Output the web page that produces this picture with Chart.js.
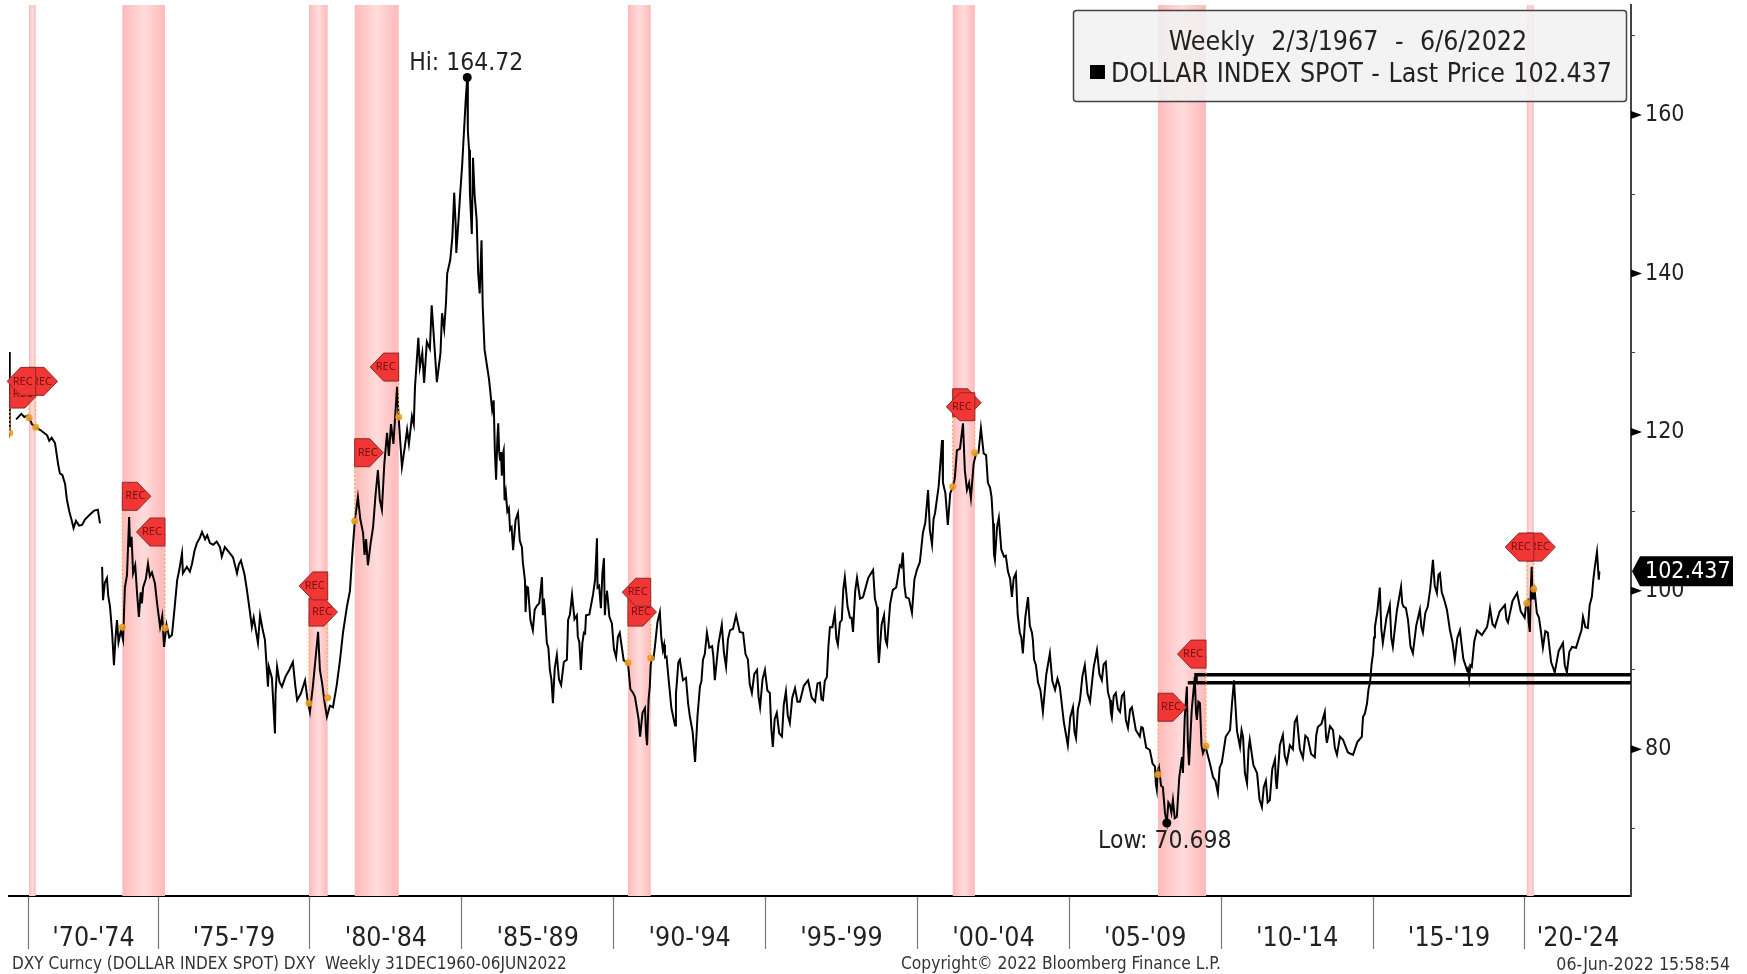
<!DOCTYPE html>
<html><head><meta charset="utf-8">
<style>html,body{margin:0;padding:0;background:#fff}canvas{display:block}</style>
<script src="https://cdn.jsdelivr.net/npm/chart.js@4"></script></head>
<body><canvas id="c" width="1747" height="974"></canvas>
<script>
const years=[
1970.11,1970.12,1970.14,1970.17,1970.33,1970.5,1970.6,1970.72,1970.85,1970.98,
1971.15,1971.35,1971.42,1971.5,1971.61,1971.71,1971.77,1971.85,1971.94,1972.0,
1972.08,1972.17,1972.22,1972.3,1972.4,1972.5,1972.6,1972.76,1972.9,1973.02,
1973.09,1973.12,1973.16,1973.19,1973.25,1973.32,1973.36,1973.42,1973.49,1973.55,
1973.6,1973.65,1973.7,1973.78,1973.85,1973.91,1973.98,1974.05,1974.08,1974.13,
1974.18,1974.25,1974.31,1974.37,1974.43,1974.47,1974.51,1974.6,1974.67,1974.73,
1974.8,1974.9,1974.97,1975.07,1975.14,1975.2,1975.28,1975.37,1975.46,1975.55,
1975.63,1975.7,1975.79,1975.82,1975.95,1976.05,1976.12,1976.2,1976.28,1976.37,
1976.45,1976.55,1976.62,1976.71,1976.82,1976.93,1977.04,1977.1,1977.2,1977.35,
1977.47,1977.6,1977.66,1977.73,1977.85,1977.93,1978.03,1978.09,1978.15,1978.29,
1978.36,1978.45,1978.52,1978.62,1978.65,1978.75,1978.85,1978.87,1978.92,1979.0,
1979.08,1979.2,1979.32,1979.44,1979.52,1979.58,1979.7,1979.84,1979.92,1980.0,
1980.1,1980.2,1980.27,1980.33,1980.4,1980.48,1980.56,1980.66,1980.76,1980.88,
1980.99,1981.09,1981.22,1981.32,1981.39,1981.48,1981.58,1981.66,1981.75,1981.8,
1981.85,1981.91,1982.0,1982.08,1982.16,1982.24,1982.3,1982.37,1982.45,1982.54,
1982.6,1982.67,1982.75,1982.87,1982.92,1983.03,1983.12,1983.2,1983.26,1983.36,
1983.42,1983.46,1983.57,1983.62,1983.7,1983.76,1983.85,1983.95,1984.01,1984.08,
1984.18,1984.3,1984.35,1984.42,1984.48,1984.52,1984.62,1984.69,1984.75,1984.8,
1984.82,1984.88,1984.95,1985.01,1985.13,1985.18,1985.2,1985.24,1985.27,1985.33,
1985.37,1985.42,1985.49,1985.54,1985.59,1985.65,1985.69,1985.75,1985.9,1986.0,
1986.05,1986.09,1986.13,1986.17,1986.2,1986.23,1986.26,1986.29,1986.32,1986.35,
1986.38,1986.4,1986.41,1986.45,1986.5,1986.55,1986.59,1986.64,1986.69,1986.77,
1986.85,1986.91,1986.98,1987.01,1987.08,1987.1,1987.14,1987.18,1987.26,1987.34,
1987.4,1987.47,1987.55,1987.64,1987.67,1987.7,1987.73,1987.8,1987.85,1987.9,
1987.95,1988.0,1988.06,1988.13,1988.2,1988.27,1988.36,1988.46,1988.5,1988.56,
1988.63,1988.71,1988.79,1988.82,1988.87,1988.92,1988.97,1989.02,1989.06,1989.09,
1989.2,1989.32,1989.39,1989.45,1989.47,1989.52,1989.58,1989.63,1989.68,1989.71,
1989.75,1989.78,1989.86,1989.94,1990.01,1990.08,1990.14,1990.2,1990.33,1990.47,
1990.55,1990.64,1990.7,1990.77,1990.82,1990.87,1990.95,1991.03,1991.07,1991.1,
1991.15,1991.19,1991.22,1991.26,1991.31,1991.36,1991.44,1991.52,1991.57,1991.62,
1991.66,1991.69,1991.74,1991.79,1991.9,1992.02,1992.05,1992.08,1992.13,1992.18,
1992.28,1992.38,1992.45,1992.51,1992.6,1992.68,1992.76,1992.84,1992.89,1992.94,
1993.0,1993.07,1993.15,1993.24,1993.28,1993.33,1993.45,1993.56,1993.63,1993.7,
1993.76,1993.83,1993.93,1994.03,1994.15,1994.26,1994.34,1994.42,1994.48,1994.55,
1994.63,1994.72,1994.77,1994.82,1994.9,1994.98,1995.06,1995.14,1995.19,1995.24,
1995.3,1995.37,1995.45,1995.54,1995.6,1995.67,1995.73,1995.8,1995.88,1995.97,
1996.05,1996.13,1996.26,1996.4,1996.52,1996.63,1996.71,1996.79,1996.84,1996.89,
1996.95,1997.02,1997.07,1997.12,1997.2,1997.28,1997.33,1997.38,1997.45,1997.51,
1997.56,1997.61,1997.7,1997.78,1997.83,1997.88,1997.95,1998.01,1998.11,1998.21,
1998.38,1998.54,1998.6,1998.67,1998.7,1998.73,1998.82,1998.9,1998.95,1999.0,
1999.1,1999.19,1999.3,1999.42,1999.47,1999.52,1999.57,1999.62,1999.72,1999.82,
1999.9,1999.98,2000.08,2000.18,2000.26,2000.35,2000.41,2000.48,2000.53,2000.58,
2000.7,2000.81,2000.84,2000.92,2001.0,2001.08,2001.17,2001.23,2001.3,2001.4,
2001.5,2001.56,2001.63,2001.7,2001.76,2001.85,2001.93,2002.01,2002.09,2002.18,
2002.26,2002.32,2002.39,2002.44,2002.49,2002.52,2002.55,2002.62,2002.68,2002.76,
2002.85,2002.91,2002.98,2003.05,2003.11,2003.17,2003.24,2003.3,2003.37,2003.42,
2003.47,2003.55,2003.64,2003.7,2003.77,2003.8,2003.84,2003.9,2003.97,2004.05,
2004.13,2004.24,2004.36,2004.44,2004.53,2004.61,2004.69,2004.82,2004.95,2005.03,
2005.12,2005.17,2005.22,2005.28,2005.35,2005.43,2005.51,2005.6,2005.68,2005.8,
2005.91,2005.99,2006.07,2006.13,2006.2,2006.27,2006.34,2006.37,2006.4,2006.46,
2006.53,2006.6,2006.67,2006.73,2006.8,2006.86,2006.93,2007.0,2007.06,2007.19,
2007.32,2007.37,2007.42,2007.53,2007.65,2007.74,2007.82,2007.85,2007.88,2007.91,
2007.95,2008.02,2008.08,2008.15,2008.21,2008.26,2008.31,2008.36,2008.41,2008.47,
2008.54,2008.62,2008.71,2008.74,2008.8,2008.87,2008.9,2008.94,2009.03,2009.13,
2009.17,2009.2,2009.25,2009.3,2009.35,2009.4,2009.48,2009.56,2009.64,2009.73,
2009.81,2009.89,2009.95,2010.02,2010.15,2010.29,2010.36,2010.42,2010.52,2010.62,
2010.67,2010.72,2010.78,2010.85,2010.9,2010.94,2011.06,2011.18,2011.26,2011.34,
2011.4,2011.47,2011.53,2011.6,2011.68,2011.77,2011.8,2011.83,2011.93,2012.03,
2012.09,2012.16,2012.26,2012.36,2012.42,2012.49,2012.59,2012.69,2012.77,2012.85,
2012.96,2013.08,2013.13,2013.18,2013.3,2013.41,2013.45,2013.48,2013.58,2013.68,
2013.74,2013.81,2013.91,2014.01,2014.17,2014.34,2014.48,2014.63,2014.65,2014.67,
2014.73,2014.8,2014.85,2014.9,2014.95,2015.0,2015.03,2015.06,2015.14,2015.22,
2015.27,2015.32,2015.44,2015.55,2015.6,2015.65,2015.78,2015.92,2015.96,2016.0,
2016.08,2016.15,2016.23,2016.31,2016.42,2016.54,2016.59,2016.64,2016.72,2016.8,
2016.88,2016.97,2017.03,2017.1,2017.15,2017.2,2017.26,2017.33,2017.43,2017.53,
2017.61,2017.69,2017.77,2017.86,2017.97,2018.09,2018.12,2018.16,2018.2,2018.25,
2018.33,2018.42,2018.58,2018.75,2018.8,2018.85,2018.93,2019.01,2019.17,2019.34,
2019.39,2019.44,2019.59,2019.74,2019.86,2019.99,2020.04,2020.09,2020.12,2020.16,
2020.19,2020.22,2020.25,2020.29,2020.32,2020.39,2020.46,2020.52,2020.59,2020.67,
2020.75,2020.86,2020.98,2021.11,2021.25,2021.31,2021.38,2021.46,2021.55,2021.68,
2021.81,2021.86,2021.91,2021.99,2022.07,2022.13,2022.2,2022.25,2022.3,2022.37,
2022.43,2022.45];
const dxy=[
130.1,120,120.3,null,121.6,122.3,121.9,122.1,121,120.6,
120.2,119.6,118.9,119.3,118.6,116,114.8,114.6,113.5,111.5,
110,108.7,107.9,108.8,108.2,108.3,109,109.6,110.1,110.2,
108.5,null,103,98.8,101,101.6,99.4,98,94.7,90.6,
94,96.3,93.5,95,93.8,100.4,102,109.3,105.5,106.8,
102.2,103.2,99.7,96.7,99.8,98.4,100.4,101.5,103.4,101.8,
102.3,100.9,98.4,95.4,96.8,92.9,95.7,94.1,94.4,98,
101.3,102.6,104.7,102.2,103,102.4,103.4,105,106,106.6,
107.4,106.5,107,106,105.8,106.2,105.5,104.3,105.5,104.8,
104.2,102.2,103.3,103.8,102,100,97.2,95.4,96.6,93.4,
96.9,95,93.8,87.9,90.4,89,82,87,90.4,88.5,
87.9,89.2,90,91,88,86.2,87,88.7,86.3,84.7,
88,92,94.8,90,88.4,86,84.1,85.5,85.3,88,
91.2,94.7,98,100,104.2,108.9,111.8,109,107.3,104.5,
106.5,103.2,106,108,112,115.2,111.5,110.2,116,119.9,
117,121,118.5,125.7,122,115.6,118,120.3,118.5,122,
121,125.7,131.9,128.2,130,126.2,131.4,130.5,136,132,
126.3,130,135,133,136.3,140,141.7,144.6,150.2,146,
142.6,146,150.2,153.5,161.9,164.72,158,155.6,150,145,
154.6,150,146.8,140,137.5,144.2,135.8,130.4,126.6,122.8,
124,117.5,114,119,121.1,117.6,116.5,117.5,114.5,117.2,
117.7,113,111.4,112.4,110,110.4,107.7,108,105.1,108.9,
109.8,106.3,105.5,103.6,101.3,97.3,100.5,100.4,96.3,95,
97.6,98.1,98.4,101.7,96.9,99,97.8,93.4,92.8,90,
88.8,85.8,90.2,91.9,88.8,88.1,91,91.3,96.3,97,
99.5,96.4,96.9,94.2,93.5,90,93.4,94.7,94.6,96.9,
97,99.5,101.4,106.6,100.4,100.6,97.8,102.2,104.1,96.9,
99.4,100,96.7,95.9,92.6,91.6,94.2,94.7,91.2,90.9,
87.6,87.1,86.6,85,83.8,81.6,84.6,85.2,81.8,80.5,
86.3,87.9,90.6,91.6,91.4,93,96,97.3,94,92.5,
93.2,91.6,91.7,89.6,85.2,83,87,88.4,91,91.3,
88.7,89,85.8,84.1,82.2,78.4,84.2,87.9,88.6,91.3,
92,94.7,92.8,93,91.8,88.7,93.3,95.7,92.2,90.4,
93.8,95,95.2,96.9,94.8,94.7,92,91.3,88.2,87.1,
89.5,90,86.6,85.3,88.8,90,87.4,87.1,82.6,80.3,
83.8,84.6,82,81.6,85.6,87.3,84.3,83.3,86.5,87.7,
86,86,88,88.7,86.5,86,88.3,88.4,86.3,86.2,
88.6,89.1,93,95.4,95.4,97.2,94,93.2,96,96.3,
100.2,101.7,98,96.6,96.6,94.8,99.9,101.6,99,99.2,
101.6,102.6,99,97.9,93,90.9,95.7,96.9,93.8,93.2,
98.3,100.1,100.4,103.2,103,104.8,100.7,99.2,99,97.2,
101.4,102.6,103.6,107.3,108.6,112.7,107.6,105.8,109,109.8,
113.2,119,113.6,112.3,108.3,112.3,113.1,114.2,117.7,117.9,
121.1,115.2,112.7,113.6,111.7,116,117.3,117.4,120.5,117.3,
117.1,113.6,113,111.8,108.5,104.6,103.9,108,109.2,105.2,
104.3,104.4,102.4,101.5,99.2,101.6,102.2,97,94.7,94.1,
92.1,96.6,99.2,95.6,94.7,93.8,91.3,90.6,88.4,87.4,
84.7,89.4,92.1,88.6,87.5,88.9,87.8,83.4,80.5,84,
85.3,82.2,81.4,85,86.2,89.2,90.6,87,86,90.3,
92.5,89.5,88.7,90.7,91,87.2,86.2,84.6,84,86.7,
87.1,85.1,84.7,86.7,87.1,83.7,82.7,85,85.3,82.4,
81.6,82.8,82.7,80.2,79.9,78.2,77.8,75.6,74.9,77.4,
77.8,75.4,75.2,71.9,70.7,73.3,73,72,73.6,71.3,
71.5,76.5,79,77,84,87.9,81,78,85,89.1,
84.7,83.7,86,85.8,80.5,79.5,80.4,79.2,78,76.5,
76,74.5,77.7,78.3,81.6,82.4,86,88.7,82.3,80.3,
82.4,81.5,77,75.7,80,81.2,78,77,73.7,72.7,
75.2,76,73.3,73.6,77.5,78.7,76,75,80.5,81.8,
79.2,78.3,80.5,80,83.4,84,80,78.9,81.7,81.4,
79.4,79,81.8,82.8,83.2,84.7,81.6,80.8,82.9,82.4,
80.2,79.3,81.6,81.2,79.6,79.3,80.9,81.6,83,84.1,
84.5,85.8,87.6,88.4,90.7,92.1,94.1,95.4,97.4,100.4,
95.2,93.4,96.6,98.2,94,92.9,97.4,100.5,98.4,98,
97.8,96.3,93,92.1,95.6,97.6,95.4,94.7,97.2,98,
100.2,103.9,100.6,99.7,102,102.2,99.8,99,97.6,95,
93.6,91.3,94,95,91.4,90,90.2,88.9,90.6,90.4,
93.6,95,94.4,95.4,96.4,97.8,95.8,95.4,97.4,98.2,
96.4,96,98.7,99.7,97.4,96.6,98.4,98.7,96,94.8,
100,103,99,99,99.9,97.2,96.6,95,92.8,94.9,
94.7,91,89.7,92.4,93.4,90.6,89.7,92.3,92.9,92.8,
94.4,95,96.7,95.4,95.3,98.2,99.2,101.4,103,104.9,
101.4,102.437];
const recessionStart=[1970.754,1973.825,1979.97,1981.475,1990.47,2001.16,2007.92,2020.06];
const recessionEnd=[1970.974,1975.23,1980.586,1982.923,1991.22,2001.89,2009.5,2020.29];
const axisBoundaries=[1970.75,1975,1980,1985,1990,1995,2000,2005,2010,2015,2020];
const axisLabels=["'70-'74","'75-'79","'80-'84","'85-'89","'90-'94","'95-'99","'00-'04","'05-'09","'10-'14","'15-'19","'20-'24"];
const xMin=1970.095,xMax=2023.49,yMin=61.49,yMax=173.87;
const yTicks=[70,80,90,100,110,120,130,140,150,160,170];
const recYears=[1970.12,1970.754,1970.974,1973.825,1975.23,1979.97,1980.586,1981.475,1982.923,1990.47,1991.22,2001.16,2001.89,2007.92,2009.5,2020.06,2020.29];
const recDots=[119.9,121.8,120.6,95.4,95.3,85.8,86.5,108.8,121.9,90.9,91.5,113.1,117.4,76.8,80.4,98.4,100.2];
const recFlagValues=[124.8,126.4,126.4,111.9,107.4,97.3,100.6,117.4,128.2,97.3,99.8,123.7,123.2,85.3,92,105.5,105.5];
const recFlagDirs=[1,1,-1,1,-1,1,-1,1,-1,1,-1,1,-1,1,-1,1,-1];
const level1Years=[2009.17,2009.17,2023.49],level1Values=[88.4,89.4,89.4];
const level2Years=[2008.9,2023.49],level2Values=[88.4,88.4];
const hiLowYears=[1985.18,2008.21],hiLowValues=[164.72,70.698];
const lastPrice=102.437;
const legendTitle="Weekly 2/3/1967 - 6/6/2022";
const legendSeries="DOLLAR INDEX SPOT - Last Price 102.437";
const footLeft="DXY Curncy (DOLLAR INDEX SPOT) DXY  Weekly 31DEC1960-06JUN2022";
const footMid="Copyright\u00a9 2022 Bloomberg Finance L.P.";
const footRight="06-Jun-2022 15:58:54";
const FONT='"DejaVu Sans Condensed","DejaVu Sans",sans-serif';

const pairs=(a,b)=>a.map((x,i)=>({x,y:b[i]}));
const xTickVals=[];
axisBoundaries.forEach((b,i)=>{const e=i+1<axisBoundaries.length?axisBoundaries[i+1]:xMax;xTickVals.push({value:b,kind:0},{value:(b+e)/2,kind:1,label:axisLabels[i]});});

const decor={id:'decor',
 beforeDatasetsDraw(ch){
  const {ctx,chartArea:a,scales:{x}}=ch;
  ctx.save();
  recessionStart.forEach((s,i)=>{
   const l=x.getPixelForValue(s),r=x.getPixelForValue(recessionEnd[i]);
   const g=ctx.createLinearGradient(l,0,r,0);
   g.addColorStop(0,'#ffb9b9');g.addColorStop(.5,'#ffdcdc');g.addColorStop(1,'#ffb9b9');
   ctx.fillStyle=g;ctx.fillRect(l,a.top,r-l,a.bottom-a.top);
  });
  ctx.restore();
 },
 afterDatasetsDraw(ch){
  const {ctx,chartArea:a,scales:{x,y}}=ch;
  ctx.save();
  ctx.strokeStyle='#f5ad50';ctx.lineWidth=1.2;ctx.setLineDash([2,2]);
  recYears.forEach((yr,i)=>{
   const px=x.getPixelForValue(yr);
   ctx.beginPath();ctx.moveTo(px,y.getPixelForValue(recDots[i]));ctx.lineTo(px,y.getPixelForValue(recFlagValues[i]));ctx.stroke();
  });
  ctx.setLineDash([]);
  recYears.forEach((yr,i)=>{
   const px=x.getPixelForValue(yr),py=y.getPixelForValue(recFlagValues[i]),d=recFlagDirs[i];
   ctx.beginPath();
   ctx.moveTo(px,py-14);ctx.lineTo(px+d*15,py-14);ctx.lineTo(px+d*28.5,py);ctx.lineTo(px+d*15,py+14);ctx.lineTo(px,py+14);ctx.closePath();
   ctx.fillStyle='#f23535';ctx.fill();ctx.strokeStyle='#8c2a2a';ctx.lineWidth=1;ctx.stroke();
   ctx.fillStyle='#7a1010';ctx.font='11px "Noto Sans"';ctx.textAlign='center';ctx.textBaseline='middle';
   ctx.fillText('REC',px+d*13,py);
  });
  ctx.fillStyle='#222';ctx.font='24.5px '+FONT;ctx.textAlign='center';ctx.textBaseline='middle';
  ctx.fillText('Hi: 164.72',x.getPixelForValue(hiLowYears[0])-1,y.getPixelForValue(hiLowValues[0])-14);
  ctx.fillText('Low: 70.698',x.getPixelForValue(hiLowYears[1])-2,y.getPixelForValue(hiLowValues[1])+19);
  ctx.fillStyle='#000';
  yTicks.filter(v=>v%20===0).forEach(v=>{
   const py=y.getPixelForValue(v);
   ctx.beginPath();ctx.moveTo(a.right,py-4);ctx.lineTo(a.right+11,py);ctx.lineTo(a.right,py+4);ctx.closePath();ctx.fill();
  });
  const ly=y.getPixelForValue(lastPrice);
  ctx.beginPath();ctx.moveTo(a.right+1,ly);ctx.lineTo(a.right+9,ly-15);ctx.lineTo(1733,ly-15);ctx.lineTo(1733,ly+15);ctx.lineTo(a.right+9,ly+15);ctx.closePath();
  ctx.fillStyle='#000';ctx.fill();
  ctx.fillStyle='#fff';ctx.font='23px '+FONT;ctx.textAlign='left';ctx.textBaseline='middle';
  ctx.fillText(lastPrice.toFixed(3),1645,ly+1);
  ctx.beginPath();ctx.roundRect(1073.5,10.5,553,91,3);
  ctx.fillStyle='rgba(241,241,241,0.88)';ctx.fill();ctx.strokeStyle='#444';ctx.lineWidth=1.5;ctx.stroke();
  ctx.fillStyle='#222';ctx.font='26.5px '+FONT;ctx.textBaseline='middle';
  ctx.textAlign='center';ctx.wordSpacing='9px';
  ctx.fillText(legendTitle,1348,43);
  ctx.textAlign='left';ctx.wordSpacing='1px';ctx.fillText(legendSeries,1111,75);
  ctx.wordSpacing='0px';
  ctx.fillStyle='#000';ctx.fillRect(1090,65,15,14);
  ctx.fillStyle='#333';ctx.textBaseline='middle';
  ctx.font='17px '+FONT;ctx.textAlign='left';ctx.fillText(footLeft,12,965);
  ctx.font='17.3px '+FONT;ctx.fillText(footMid,901,965);
  ctx.font='17.6px '+FONT;ctx.textAlign='right';ctx.fillText(footRight,1730,965);
  ctx.restore();
 }};

new Chart(document.getElementById('c'),{
 type:'line',
 data:{datasets:[
  {label:'DOLLAR INDEX SPOT',data:pairs(years,dxy),borderColor:'#000',borderWidth:2,pointRadius:0,tension:0,spanGaps:false,order:3},
  {label:'L1',data:pairs(level1Years,level1Values),borderColor:'#000',borderWidth:3.5,pointRadius:0,tension:0,order:2},
  {label:'L2',data:pairs(level2Years,level2Values),borderColor:'#000',borderWidth:3.5,pointRadius:0,tension:0,order:2},
  {label:'REC',data:pairs(recYears,recDots),showLine:false,pointRadius:3.5,pointBackgroundColor:'rgba(235,155,25,.9)',pointBorderWidth:0,order:1},
  {label:'HiLow',data:pairs(hiLowYears,hiLowValues),showLine:false,pointRadius:4.5,pointBackgroundColor:'#000',pointBorderWidth:0,order:1}
 ]},
 options:{responsive:false,animation:false,
  layout:{padding:{left:9,top:5,right:0,bottom:0}},
  plugins:{legend:{display:false},tooltip:{enabled:false}},
  scales:{
   x:{type:'linear',min:xMin,max:xMax,
    afterBuildTicks(s){s.ticks=xTickVals.map(t=>({value:t.value,kind:t.kind,label:t.label}));},
    afterFit(s){s.height=78;s.paddingLeft=0;s.paddingRight=0;},
    grid:{drawOnChartArea:false,drawTicks:true,tickLength:53,tickWidth:1.2,
      tickColor:c=>(c.tick&&c.tick.kind===1)?'rgba(0,0,0,0)':'#777'},
    border:{color:'#000',width:2},
    ticks:{autoSkip:false,maxRotation:0,minRotation:0,padding:-25.5,color:'#222',font:{family:FONT,size:26.5},
      callback(v,i){return xTickVals[i]&&xTickVals[i].label||'';}}},
   y:{position:'right',min:yMin,max:yMax,
    afterBuildTicks(s){s.ticks=yTicks.map(value=>({value}));},
    afterFit(s){s.width=116;s.paddingTop=0;s.paddingBottom=0;},
    grid:{drawOnChartArea:false,drawTicks:true,tickLength:4,tickColor:'#444'},
    border:{color:'#444',width:2},
    ticks:{autoSkip:false,padding:10,color:'#222',font:{family:FONT,size:23},
      callback(v){return v%20===0?String(v):'';}}}
  }},
 plugins:[decor]});
</script></body></html>
